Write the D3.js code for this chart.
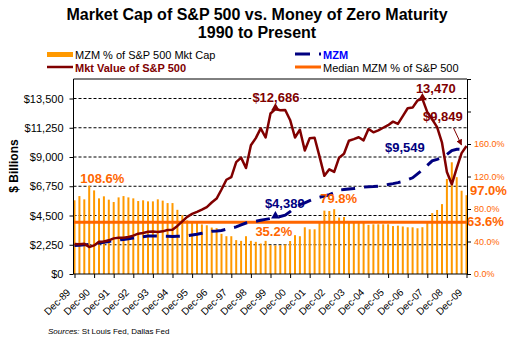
<!DOCTYPE html>
<html>
<head>
<meta charset="utf-8">
<script src="https://cdn.jsdelivr.net/npm/d3@7"></script>
<style>
  body { margin: 0; background: #fff; }
  text { font-family: "Liberation Sans", Arial, sans-serif; }
</style>
</head>
<body>
<div id="chart"></div>
<script>
// quarterly, Dec-89 .. Dec-09
const tickLabels = ["Dec-89", "Dec-90", "Dec-91", "Dec-92", "Dec-93", "Dec-94", "Dec-95", "Dec-96", "Dec-97", "Dec-98",
    "Dec-99", "Dec-00", "Dec-01", "Dec-02", "Dec-03", "Dec-04", "Dec-05", "Dec-06", "Dec-07", "Dec-08", "Dec-09"];

// MZM % of S&P 500 market cap
const mzmPct = [90.7, 95.9, 91.9, 108.6, 102.9, 93.1, 95.6, 91.5, 88.6, 94.3,
    95.9, 94.3, 93.1, 89.8, 90.7, 89.4, 89.4, 91.9, 90.3, 87.3,
    87.3, 79, 72.3, 66, 63.3, 63, 61, 60, 57.2, 56.4,
    49.4, 46.5, 46.5, 41.7, 40.8, 46.5, 40.8, 39.6, 37.5, 40.8,
    35.5, 35.2, 35.5, 36.5, 40.6, 47.8, 46.5, 57.5, 55, 55,
    63, 78, 77.5, 79.8, 69.5, 70.2, 63.5, 63.2, 63.5, 63.2,
    60.5, 61.2, 61.2, 61.2, 61.2, 59, 59.5, 58.5, 57.5, 57.5,
    56.3, 57.6, 63, 75, 78.8, 86, 117, 137.5, 119.2, 102.5, 97.0];

// S&P 500 market value, $ billions
const mktValue = [2300, 2280, 2320, 2080, 2200, 2480, 2500, 2590, 2740, 2790,
    2790, 2850, 2950, 3100, 3150, 3250, 3260, 3230, 3280, 3380,
    3410, 3700, 4050, 4400, 4620, 4780, 4950, 5150, 5500, 5800,
    6500, 7250, 7450, 8600, 8950, 8150, 9900, 10450, 11200, 10500,
    12350, 12686, 12600, 12620, 11850, 10500, 11100, 9500, 10450, 10480,
    9050, 7550, 8050, 7850, 8950, 9250, 10250, 10380, 10520, 10280,
    11150, 10900, 11050, 11250, 11450, 11720, 11550, 12150, 12750, 12800,
    13350, 13470, 12450, 11900, 11300, 10100, 7850, 6900, 8150, 9300, 9849];

// MZM, $ billions
const mzm = [2190, 2210, 2240, 2280, 2330, 2380, 2440, 2500, 2560, 2610,
    2660, 2710, 2760, 2810, 2860, 2920, 2930, 2920, 2900, 2895,
    2890, 2900, 2910, 2940, 3000, 3060, 3130, 3200, 3280, 3310,
    3350, 3440, 3530, 3620, 3780, 3920, 3990, 4060, 4130, 4200,
    4270, 4389, 4420, 4520, 4800, 5100, 5330, 5470, 5650, 5800,
    5900, 6000, 6100, 6250, 6450, 6500, 6540, 6570, 6620, 6680,
    6710, 6730, 6760, 6780, 6880, 6950, 7030, 7120, 7250, 7400,
    7700, 8000, 8350, 8700, 8820, 8950, 9200, 9500, 9600, 9580, 9549];

const medianPct = 63.6;

const leftTicks = [0, 2250, 4500, 6750, 9000, 11250, 13500];
const rightTicks = [0, 40, 80, 120, 160, 200, 240];

const W = 521, H = 351;
const pLeft = 73.5, pRight = 467, pTop = 79, pBottom = 274;

const svg = d3.select("#chart").append("svg")
    .attr("width", W)
    .attr("height", H);

const x = d3.scaleLinear().domain([0, mzmPct.length - 1]).range([74.5, 466.5]);
const yL = d3.scaleLinear().domain([0, 15000]).range([pBottom, pTop]);
const yR = d3.scaleLinear().domain([0, 240]).range([pBottom, pTop]);

const ORANGE = "#FF6600", BAR = "#FF9900", RED = "#800000", NAVY = "#000080";

// title
svg.append("text").attr("x", 257).attr("y", 20).attr("text-anchor", "middle")
    .style("font-size", "16px").style("font-weight", "bold")
    .text("Market Cap of S&P 500 vs. Money of Zero Maturity");
svg.append("text").attr("x", 257).attr("y", 38).attr("text-anchor", "middle")
    .style("font-size", "16px").style("font-weight", "bold")
    .text("1990 to Present");

// legend
const lg = svg.append("g");
lg.append("rect").attr("x", 47).attr("y", 52).attr("width", 26).attr("height", 5).attr("fill", BAR);
lg.append("text").attr("x", 75).attr("y", 59).style("font-size", "11px").text("MZM % of S&P 500 Mkt Cap");
lg.append("line").attr("x1", 47).attr("x2", 73).attr("y1", 67).attr("y2", 67)
    .attr("stroke", RED).attr("stroke-width", 2.5);
lg.append("text").attr("x", 75).attr("y", 71.5).style("font-size", "11px").style("font-weight", "bold")
    .attr("fill", RED).text("Mkt Value of S&P 500");
lg.append("line").attr("x1", 295).attr("x2", 321).attr("y1", 54).attr("y2", 54)
    .attr("stroke", NAVY).attr("stroke-width", 3).attr("stroke-dasharray", "15,9");
lg.append("text").attr("x", 323).attr("y", 58.5).style("font-size", "11px").style("font-weight", "bold")
    .attr("fill", "#0000FF").text("MZM");
lg.append("line").attr("x1", 295).attr("x2", 321).attr("y1", 67).attr("y2", 67)
    .attr("stroke", ORANGE).attr("stroke-width", 3);
lg.append("text").attr("x", 323).attr("y", 71.5).style("font-size", "11px").text("Median MZM % of S&P 500");

// gridlines
svg.append("g").selectAll("line")
    .data(leftTicks.filter(d => d > 0))
    .enter().append("line")
    .attr("x1", pLeft).attr("x2", pRight)
    .attr("y1", d => yL(d)).attr("y2", d => yL(d))
    .attr("stroke", "#000").attr("stroke-dasharray", "3,2");

// bars
svg.append("g").selectAll("rect")
    .data(mzmPct)
    .enter().append("rect")
    .attr("x", (d, i) => x(i) - 1)
    .attr("width", 2)
    .attr("y", d => yR(d))
    .attr("height", d => yR(0) - yR(d))
    .attr("fill", BAR);

// median
svg.append("line")
    .attr("x1", pLeft).attr("x2", pRight)
    .attr("y1", yR(medianPct)).attr("y2", yR(medianPct))
    .attr("stroke", ORANGE).attr("stroke-width", 3);

const line = d3.line().x((d, i) => x(i)).y(d => yL(d));

svg.append("path").datum(mzm)
    .attr("d", line)
    .attr("fill", "none")
    .attr("stroke", NAVY)
    .attr("stroke-width", 3)
    .attr("stroke-dasharray", "14,9");

svg.append("path").datum(mktValue)
    .attr("d", line)
    .attr("fill", "none")
    .attr("stroke", RED)
    .attr("stroke-width", 2.5)
    .attr("stroke-linejoin", "round");

// peak markers
const tri = d3.symbol().type(d3.symbolTriangle).size(32);
[[41, mktValue[41], RED], [71, mktValue[71], RED], [41, mzm[41], NAVY]].forEach(([i, v, c]) => {
    svg.append("path").attr("d", tri)
        .attr("transform", `translate(${x(i)},${yL(v) - 1})`)
        .attr("fill", c);
});

// frame
svg.append("line").attr("x1", pLeft).attr("x2", pRight).attr("y1", pTop).attr("y2", pTop).attr("stroke", "#000");

// axes
const axL = svg.append("g").attr("transform", `translate(${pLeft},0)`)
    .call(d3.axisLeft(yL).tickValues(leftTicks).tickSize(4).tickPadding(6).tickSizeOuter(0)
        .tickFormat(d => "$" + d3.format(",")(d)));
axL.select(".domain").attr("d", `M0,${pTop}V${pBottom}`);
axL.selectAll("text").style("font-size", "11px").style("font-family", "Liberation Sans, Arial, sans-serif");

const axR = svg.append("g").attr("transform", `translate(${pRight},0)`)
    .call(d3.axisRight(yR).tickValues(rightTicks).tickSize(4).tickPadding(3).tickSizeOuter(0)
        .tickFormat(d => d <= 160 ? d.toFixed(1) + "%" : ""));
axR.selectAll("text").style("font-size", "9px").attr("fill", ORANGE)
    .style("font-family", "Liberation Sans, Arial, sans-serif");

const axB = svg.append("g").attr("transform", `translate(0,${pBottom})`)
    .call(d3.axisBottom(x).tickValues(d3.range(0, mzmPct.length, 4)).tickSize(4).tickSizeOuter(0)
        .tickFormat((d, i) => tickLabels[i]));
axB.select(".domain").attr("d", `M${pLeft},0H${pRight}`);
axB.selectAll("text")
    .attr("x", 0).attr("y", 0).attr("dy", 0)
    .attr("transform", "translate(-4,19) rotate(-45)")
    .style("text-anchor", "end")
    .style("font-size", "10px")
    .style("font-family", "Liberation Sans, Arial, sans-serif");

// y title
svg.append("text")
    .attr("transform", "translate(18,166) rotate(-90)")
    .attr("text-anchor", "middle")
    .style("font-size", "12px").style("font-weight", "bold")
    .text("$ Billions");

// annotations
const last = mzmPct.length - 1;
const notes = [
    { t: "108.6%", x: x(3) - 9, y: yR(mzmPct[3]) - 3, c: ORANGE },
    { t: "$12,686", x: x(41) - 23, y: yL(mktValue[41]) - 7.5, c: RED, bg: true },
    { t: "13,470", x: x(71) - 6.5, y: yL(mktValue[71]) - 6, c: RED },
    { t: "$9,849", x: x(last) - 43.5, y: yL(mktValue[last]) - 24.5, c: RED },
    { t: "$9,549", x: x(last) - 81.5, y: yL(mzm[last]) + 2, c: NAVY },
    { t: "$4,389", x: x(41) - 10.5, y: yL(mzm[41]) - 9, c: NAVY },
    { t: "79.8%", x: x(53) - 14, y: yR(mzmPct[53]) - 6, c: ORANGE },
    { t: "35.2%", x: x(41) - 20, y: yR(mzmPct[41]) - 9.5, c: ORANGE },
    { t: "97.0%", x: x(last) + 3.5, y: yR(mzmPct[last]), c: ORANGE },
    { t: "63.6%", x: x(last) + 0.5, y: yR(medianPct) + 4, c: ORANGE }
];
const noteG = svg.append("g");
notes.forEach(n => {
    const t = noteG.append("text")
        .attr("x", n.x).attr("y", n.y)
        .attr("fill", n.c)
        .style("font-size", "13px").style("font-weight", "bold")
        .text(n.t);
    if (n.bg) {
        const b = t.node().getBBox();
        noteG.insert("rect", "text").attr("x", b.x - 1).attr("y", b.y + 1)
            .attr("width", b.width + 2).attr("height", b.height - 2).attr("fill", "#fff");
    }
});

// arrow to last market value
svg.append("defs").append("marker")
    .attr("id", "arr").attr("viewBox", "0 0 10 10").attr("refX", 9).attr("refY", 5)
    .attr("markerWidth", 6).attr("markerHeight", 6).attr("orient", "auto")
    .append("path").attr("d", "M0,0L10,5L0,10z").attr("fill", RED);
svg.append("line")
    .attr("x1", x(last) - 13).attr("y1", yL(mktValue[last]) - 18)
    .attr("x2", x(last) - 5).attr("y2", yL(mktValue[last]) - 1)
    .attr("stroke", RED).attr("stroke-width", 1)
    .attr("marker-end", "url(#arr)");

// source
const src = svg.append("text").attr("x", 48).attr("y", 334).style("font-size", "8px");
src.append("tspan").style("font-style", "italic").text("Sources: ");
src.append("tspan").text("St Louis Fed, Dallas Fed");
</script>
</body>
</html>
